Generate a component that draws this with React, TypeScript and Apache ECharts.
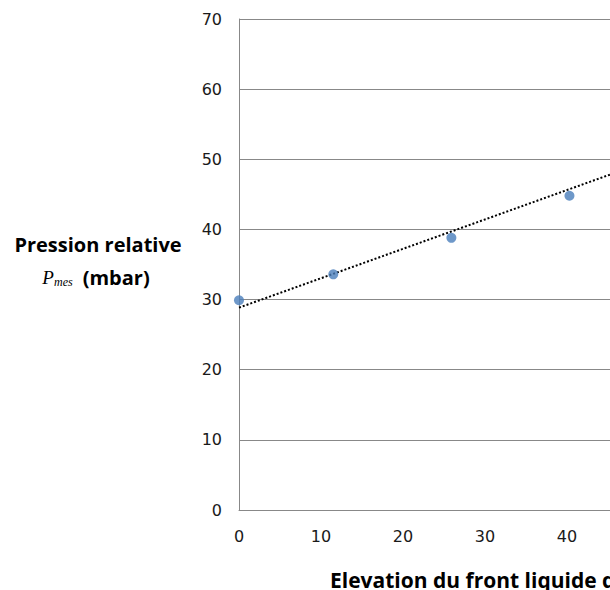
import React, { useEffect, useRef } from "react";
import * as echarts from "echarts";

const elevation: number[] = [0, 11.5, 25.9, 40.3];
const pressure: number[] = [29.9, 33.6, 38.8, 44.8];
const trendX: number[] = [0, 60];
const trendY: number[] = [28.85, 54.0];
const yTicks: number[] = [0, 10, 20, 30, 40, 50, 60, 70];
const xTicks: number[] = [0, 10, 20, 30, 40, 50, 60];

const TICK_FONT = "'DejaVu Sans', sans-serif";
const TITLE_FONT = "'Open Sans', sans-serif";

export default function App() {
  const ref = useRef<HTMLDivElement>(null);
  useEffect(() => {
    if (!ref.current) return;
    const chart = echarts.init(ref.current, undefined, { renderer: "svg" });
    chart.setOption({
      animation: false,
      backgroundColor: "#ffffff",
      grid: { left: 239, top: 19, width: 492, height: 491, containLabel: false },
      xAxis: {
        type: "value",
        min: xTicks[0],
        max: xTicks[xTicks.length - 1],
        interval: 10,
        axisLine: { show: true, lineStyle: { color: "#888888", width: 1 } },
        axisTick: { show: false },
        splitLine: { show: false },
        axisLabel: { color: "#1a1a1a", fontSize: 16, fontFamily: TICK_FONT, margin: 18 },
      },
      yAxis: {
        type: "value",
        min: yTicks[0],
        max: yTicks[yTicks.length - 1],
        interval: 10,
        axisLine: { show: true, lineStyle: { color: "#888888", width: 1 } },
        axisTick: { show: false },
        splitLine: { show: true, lineStyle: { color: "#888888", width: 1 } },
        axisLabel: { color: "#1a1a1a", fontSize: 16, fontFamily: TICK_FONT, margin: 17 },
      },
      series: [
        {
          type: "line",
          data: trendX.map((x, i) => [x, trendY[i]]),
          showSymbol: false,
          symbol: "none",
          lineStyle: { color: "#000000", width: 2, type: [2, 2] },
          z: 2,
        },
        {
          type: "scatter",
          data: elevation.map((x, i) => [x, pressure[i]]),
          symbol: "circle",
          symbolSize: 10,
          itemStyle: { color: "#4a7ebb" },
          z: 3,
        },
      ],
      graphic: [
        {
          type: "text",
          x: 98,
          y: 244,
          style: {
            text: "Pression relative",
            font: `bold 20px ${TITLE_FONT}`,
            fill: "#000",
            align: "center",
            verticalAlign: "middle",
          },
        },
        {
          type: "text",
          x: 96,
          y: 277,
          style: {
            text: "{p|P}{s|mes}   {m|(mbar)}",
            align: "center",
            verticalAlign: "middle",
            rich: {
              p: { font: "italic 19px 'Liberation Serif', serif", fill: "#000" },
              s: { font: "italic 12px 'Liberation Serif', serif", fill: "#000", padding: [10, 0, 0, 0] },
              m: { font: `bold 20px ${TITLE_FONT}`, fill: "#000" },
            },
          },
        },
        {
          type: "text",
          x: 330,
          y: 580,
          style: {
            text: "Elevation du front liquide dans le tube (mm)",
            font: `bold 21px ${TITLE_FONT}`,
            fill: "#000",
            align: "left",
            verticalAlign: "middle",
          },
        },
      ],
    });
    return () => chart.dispose();
  }, []);
  return (
    <div style={{ position: "fixed", left: 0, top: 0, width: 610, height: 590, overflow: "hidden", background: "#fff" }}>
      <div ref={ref} style={{ width: 800, height: 590 }} />
    </div>
  );
}
